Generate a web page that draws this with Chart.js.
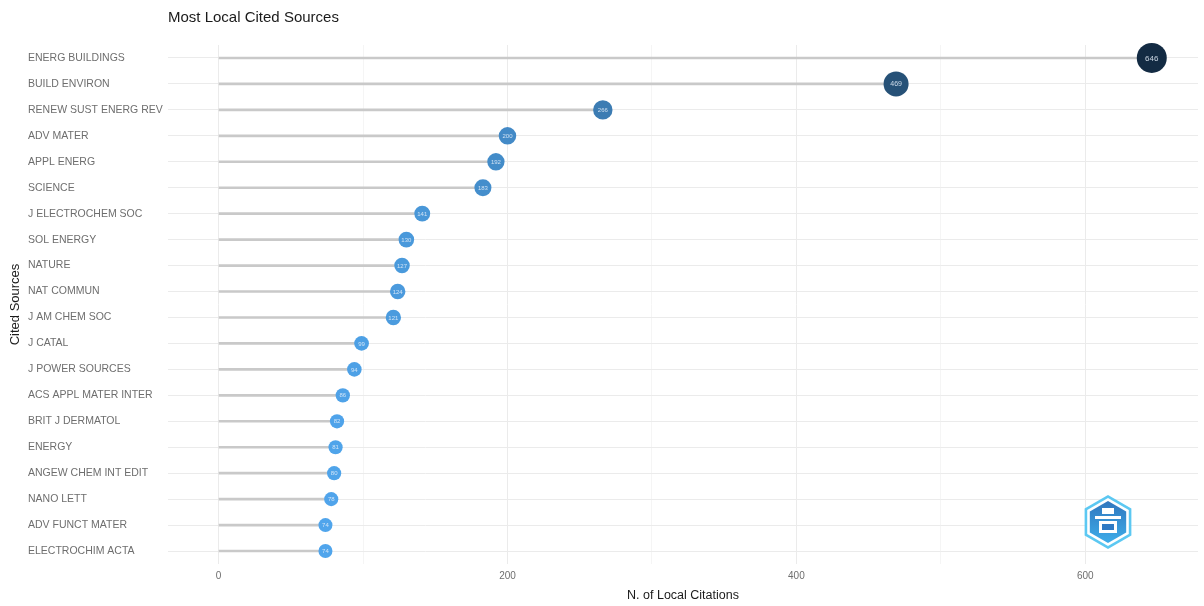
<!DOCTYPE html>
<html>
<head>
<meta charset="utf-8">
<script src="https://cdn.jsdelivr.net/npm/chart.js@4/dist/chart.umd.min.js"></script>
<style>
  html, body { margin: 0; padding: 0; background: #fff; }
  #wrap { width: 1204px; height: 606px; }
</style>
</head>
<body>
<div id="wrap"><canvas id="lollipop" width="1204" height="606"></canvas></div>
<script>
// Sources and their local citation counts (top to bottom)
const sources = [
  'ENERG BUILDINGS', 'BUILD ENVIRON', 'RENEW SUST ENERG REV', 'ADV MATER', 'APPL ENERG',
  'SCIENCE', 'J ELECTROCHEM SOC', 'SOL ENERGY', 'NATURE', 'NAT COMMUN',
  'J AM CHEM SOC', 'J CATAL', 'J POWER SOURCES', 'ACS APPL MATER INTER', 'BRIT J DERMATOL',
  'ENERGY', 'ANGEW CHEM INT EDIT', 'NANO LETT', 'ADV FUNCT MATER', 'ELECTROCHIM ACTA'
];
const citations = [646, 469, 266, 200, 192, 183, 141, 130, 127, 124, 121, 99, 94, 86, 82, 81, 80, 78, 74, 74];
const xTicks = [0, 200, 400, 600];

const vMin = Math.min(...citations);
const vMax = Math.max(...citations);
const FONT = "'Liberation Sans', Arial, sans-serif";

// light blue for low counts -> navy for high counts
function shade(v) {
  const t = (v - vMin) / (vMax - vMin);
  const lo = [80, 165, 236], hi = [19, 43, 67];
  const c = lo.map((l, i) => Math.round(l + (hi[i] - l) * t));
  return `rgb(${c[0]},${c[1]},${c[2]})`;
}
function radius(v) {
  return 7 + 8 * (v - vMin) / (vMax - vMin);
}

// numbers printed inside the dots
const dotLabels = {
  id: 'dotLabels',
  afterDatasetsDraw(chart) {
    const meta = chart.getDatasetMeta(1);
    const c = chart.ctx;
    c.save();
    c.textAlign = 'center';
    c.textBaseline = 'middle';
    meta.data.forEach((pt, i) => {
      const v = citations[i];
      const fs = Math.max(6, Math.round(radius(v) * 0.55));
      c.font = `${fs}px ${FONT}`;
      c.fillStyle = 'rgba(230,240,250,0.85)';
      c.fillText(String(v), pt.x, pt.y + 0.5);
    });
    c.restore();
  }
};

// small hexagon badge bottom right
const badge = {
  id: 'badge',
  afterDraw(chart) {
    const c = chart.ctx;
    const cx = 1108, cy = 522, r = 27;
    const hex = (rr) => {
      c.beginPath();
      for (let k = 0; k < 6; k++) {
        const a = Math.PI / 6 + k * Math.PI / 3;
        const px = cx + rr * Math.cos(a), py = cy + rr * Math.sin(a);
        k ? c.lineTo(px, py) : c.moveTo(px, py);
      }
      c.closePath();
    };
    c.save();
    hex(r);
    c.fillStyle = '#5cc8f2';
    c.fill();
    hex(r - 3);
    c.fillStyle = '#ffffff';
    c.fill();
    hex(r - 6);
    const g = c.createLinearGradient(cx, cy - r, cx, cy + r);
    g.addColorStop(0, '#2f6fb8');
    g.addColorStop(1, '#3fb4ef');
    c.fillStyle = g;
    c.fill();
    c.fillStyle = '#ffffff';
    c.fillRect(cx - 13, cy - 6, 26, 3);
    c.fillRect(cx - 6, cy - 14, 12, 6);
    c.fillRect(cx - 9, cy - 1, 18, 12);
    c.fillStyle = '#2f7ac4';
    c.fillRect(cx - 6, cy + 2, 12, 6);
    c.restore();
  }
};

new Chart(document.getElementById('lollipop'), {
  type: 'bar',
  data: {
    labels: sources,
    datasets: [
      {
        type: 'bar',
        indexAxis: 'y',
        data: citations,
        backgroundColor: '#c9c9c9',
        barThickness: 2,
        order: 2
      },
      {
        type: 'scatter',
        data: sources.map((s, i) => ({ x: citations[i], y: s })),
        pointRadius: ctx => radius(citations[ctx.dataIndex]),
        pointBackgroundColor: ctx => shade(citations[ctx.dataIndex]),
        pointBorderWidth: 0,
        pointHoverRadius: ctx => radius(citations[ctx.dataIndex]),
        order: 1
      }
    ]
  },
  options: {
    responsive: false,
    animation: false,
    layout: { autoPadding: false, padding: { left: 8, right: 4, top: 4, bottom: 3 } },
    plugins: {
      legend: { display: false },
      tooltip: { enabled: false },
      title: {
        display: true,
        text: 'Most Local Cited Sources',
        align: 'start',
        fullSize: false,
        color: '#1a1a1a',
        font: { family: FONT, size: 15, weight: 'normal' },
        padding: { top: 5, bottom: 18 }
      }
    },
    scales: {
      x: {
        type: 'linear',
        min: -35,
        max: 678,
        offset: false,
        border: { display: false },
        grid: {
          offset: false,
          drawTicks: false,
          color: ctx => {
            const v = ctx.tick && ctx.tick.value;
            if (xTicks.includes(v)) return '#ebebeb';
            if (v > 0 && v % 100 === 0) return '#f5f5f5';
            return 'rgba(0,0,0,0)';
          }
        },
        ticks: {
          stepSize: 100,
          padding: 6,
          color: '#6e6e6e',
          font: { family: FONT, size: 10 },
          callback: v => xTicks.includes(v) ? String(v) : ''
        },
        title: {
          display: true,
          text: 'N. of Local Citations',
          color: '#1a1a1a',
          font: { family: FONT, size: 12.5 },
          padding: { top: 0, bottom: 0 }
        }
      },
      y: {
        type: 'category',
        labels: sources,
        offset: true,
        weight: 0,
        border: { display: false },
        grid: { offset: false, drawTicks: false, color: '#ebebeb' },
        ticks: {
          crossAlign: 'far',
          padding: 0,
          color: '#6e6e6e',
          font: { family: FONT, size: 10.5 }
        },
        afterFit: s => { s.width = 140; }
      },
      yTitle: {
        type: 'category',
        labels: sources,
        position: 'left',
        weight: 1,
        border: { display: false },
        grid: { display: false },
        ticks: { display: false },
        title: {
          display: true,
          text: 'Cited Sources',
          color: '#1a1a1a',
          font: { family: FONT, size: 13 },
          padding: 0
        },
        afterFit: s => { s.width = 20; }
      }
    }
  },
  plugins: [dotLabels, badge]
});
</script>
</body>
</html>
